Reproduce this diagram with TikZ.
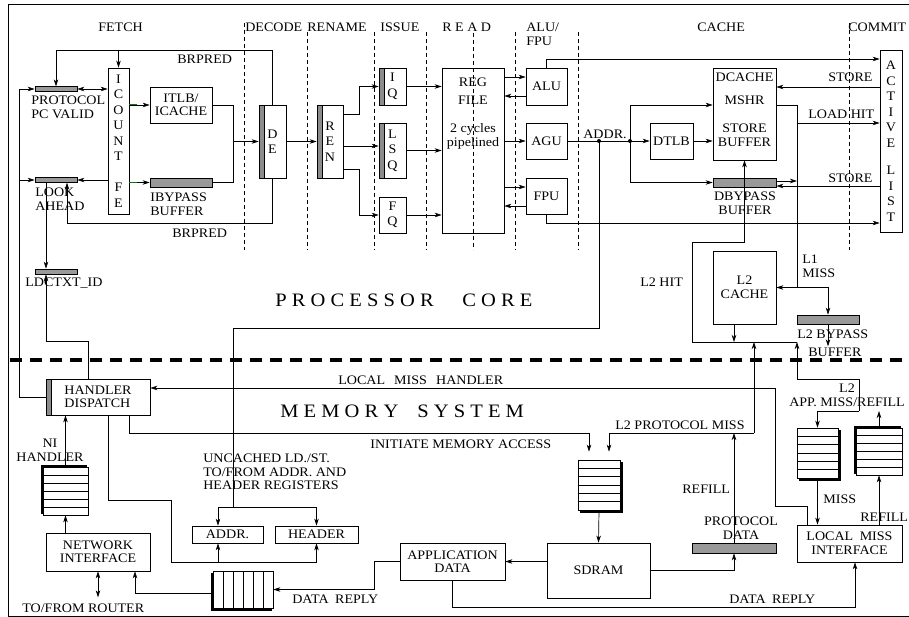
\documentclass[tikz,border=0pt]{standalone}
\usepackage{fontspec}
\setmainfont{Liberation Serif}[FakeStretch=1.08]
\usetikzlibrary{arrows.meta,calc,shadows}

\begin{document}
\begin{tikzpicture}[x=1pt, y=-1pt, line width=0.7pt,
  font=\fontsize{13}{13.5}\selectfont,
  >={Stealth[length=7pt,width=4.5pt,inset=2pt]},
  box/.style={draw, fill=white, align=center, inner sep=1pt},
  bar/.style={draw, fill=black!40, inner sep=0pt},
  stack/.style={box, inner sep=0pt, font=\fontsize{13}{15.5}\selectfont},
  strip/.style={path picture={
    \fill[black!45] (path picture bounding box.north west) rectangle ([xshift=5pt]path picture bounding box.south west);
    \draw ([xshift=5pt]path picture bounding box.north west) -- ([xshift=5pt]path picture bounding box.south west);}},
  queue/.style={draw, fill=white, inner sep=0pt},
  rows/.style={path picture={
    \foreach \k [evaluate=\k as \f using \k/(#1+1)] in {1,...,#1}
      \draw ($(path picture bounding box.north west)!\f!(path picture bounding box.south west)$) --
            ($(path picture bounding box.north east)!\f!(path picture bounding box.south east)$);}},
  cols/.style={path picture={
    \foreach \k [evaluate=\k as \f using \k/(#1+1)] in {1,...,#1}
      \draw ($(path picture bounding box.north west)!\f!(path picture bounding box.north east)$) --
            ($(path picture bounding box.south west)!\f!(path picture bounding box.south east)$);}},
  qse/.style={copy shadow={shadow xshift=2pt, shadow yshift=-2pt, fill=black, draw=black}},
  qnw/.style={copy shadow={shadow xshift=-2pt, shadow yshift=2pt, fill=black, draw=black}},
  qsw/.style={copy shadow={shadow xshift=-2pt, shadow yshift=-2pt, fill=black, draw=black}},
  lbl/.style={inner sep=0pt, anchor=base west},
  mlbl/.style={inner sep=0pt, anchor=north west, align=left},
  mclbl/.style={inner sep=0pt, anchor=north, align=center},
  bigtext/.style={inner sep=0pt, anchor=base west, font=\fontsize{19}{20}\selectfont},
  stagesep/.style={line width=0.6pt, dash pattern=on 4pt off 3pt},
  greenstub/.style={green!50!black, line width=1pt}]
  \useasboundingbox (0,0) rectangle (909,617);
  % Frame
  \draw (909,4) -- (8,4) -- (8,616) -- (909,616);
  % Stage names
  \foreach \name/\xx [count=\k] in {FETCH/98, DECODE/245, RENAME/307, ISSUE/380, {R E A D}/442, CACHE/697, COMMIT/848}
    \node[lbl] (stage\k) at (\xx,32) {\name};
  \node[mlbl] (stagealu) at (526,23) {ALU/\\FPU};

  % Fetch
  \node[bar, minimum width=42pt, minimum height=4.5pt] (pcv) at (56,89) {};
  \node[mlbl] (pcv-lbl) at (31,96) {PROTOCOL\\PC VALID};
  \node[bar, minimum width=42pt, minimum height=4.5pt] (look) at (56,180) {};
  \node[mlbl] (look-lbl) at (35,188) {LOOK\\AHEAD};
  \node[bar, minimum width=42pt, minimum height=5pt] (ldctxt) at (56,271.5) {};
  \node[lbl] (ldctxt-lbl) at (25,287) {LDCTXT\_ID};
  \node[stack, minimum width=21pt, minimum height=146pt] (icount) at (118.5,141) {I\\C\\O\\U\\N\\T\\[15.5pt]F\\E};
  \node[box, minimum width=62pt, minimum height=36pt] (itlb) at (181,105) {ITLB/\\ICACHE};
  \node[bar, minimum width=62pt, minimum height=9pt] (ibyp) at (181,182.5) {};
  \node[mlbl] (ibyp-lbl) at (150,193) {IBYPASS\\BUFFER};
  \node[lbl] (brtop-lbl) at (177,64) {BRPRED};
  \node[lbl] (brbot-lbl) at (172,238) {BRPRED};

  % Decode, rename, issue
  \node[stack, strip, minimum width=27pt, minimum height=73pt] (de) at (272.5,141.5) {D\\E};
  \node[stack, strip, minimum width=26pt, minimum height=73pt] (ren) at (330,141.5) {R\\E\\N};
  \node[stack, strip, minimum width=27pt, minimum height=37pt] (iq) at (392.5,86.5) {I\\Q};
  \node[stack, strip, minimum width=27pt, minimum height=55pt] (lsq) at (392.5,150.5) {L\\S\\Q};
  \node[stack, minimum width=27pt, minimum height=36pt] (fq) at (392.5,215) {F\\Q};

  % Read, execute
  \node[box, minimum width=62pt, minimum height=165pt] (rf) at (473,150.5) {};
  \node[mclbl] (rf-lbl) at (473,78) {REG\\[4.5pt]FILE\\[14.5pt]2 cycles\\pipelined};
  \node[box, minimum width=41pt, minimum height=37pt] (alu) at (546.5,86.5) {ALU};
  \node[box, minimum width=41pt, minimum height=36pt] (agu) at (546.5,141) {AGU};
  \node[box, minimum width=41pt, minimum height=36pt] (fpu) at (546.5,196) {FPU};

  % Cache, commit
  \node[box, minimum width=43pt, minimum height=36pt] (dtlb) at (671.5,141) {DTLB};
  \node[box, minimum width=63pt, minimum height=92pt] (dcache) at (744.5,114) {};
  \node[mclbl] (dcache-lbl) at (744.5,73) {DCACHE\\[9.5pt]MSHR\\[14.5pt]STORE\\BUFFER};
  \node[bar, minimum width=63pt, minimum height=9pt] (dbyp) at (744.5,182.5) {};
  \node[mclbl] (dbyp-lbl) at (745,192) {DBYPASS\\BUFFER};
  \node[stack, minimum width=22pt, minimum height=182pt] (alist) at (891,141) {A\\C\\T\\I\\V\\E\\[12pt]L\\I\\S\\T};
  \node[lbl] (addr-lbl) at (583,139) {ADDR.};
  \node[lbl] (sttop-lbl) at (828,82) {STORE};
  \node[lbl] (ldhit-lbl) at (808,119) {LOAD HIT};
  \node[lbl] (stbot-lbl) at (828,183) {STORE};

  % L2
  \node[box, minimum width=63pt, minimum height=73pt] (l2c) at (744.5,287.5) {L2\\CACHE};
  \node[bar, minimum width=62pt, minimum height=9pt] (l2byp) at (828,319.5) {};
  \node[lbl] (l2byp-lbl) at (797,338) {L2 BYPASS};
  \node[lbl] (l2buf-lbl) at (808,356) {BUFFER};
  \node[mlbl] (l1-lbl) at (802,255) {L1\\MISS};
  \node[lbl] (l2hit-lbl) at (640,287) {L2 HIT};
  \node[bigtext] (core-lbl) at (275,306) {P R O C E S S O R\hspace{1.5em}C O R E};

  % Memory system
  \node[box, strip, align=left, minimum width=104pt, minimum height=36pt] (hd) at (98,397) {HANDLER\\DISPATCH};
  \node[bigtext] (mem-lbl) at (280,417) {M E M O R Y\hspace{1em}S Y S T E M};
  \node[lbl] (lmh-lbl) at (338,384) {LOCAL\hspace{0.7em}MISS\hspace{0.7em}HANDLER};
  \node[queue, qnw, rows=5, minimum width=45pt, minimum height=48pt] (niq) at (65.5,491) {};
  \node[mclbl] (niq-lbl) at (50,439) {NI\\HANDLER};
  \node[box, minimum width=104pt, minimum height=38pt] (ni) at (98,552) {NETWORK\\INTERFACE};
  \node[lbl] (router-lbl) at (22,612) {TO/FROM ROUTER};
  \node[mlbl] (unc-lbl) at (203,454) {UNCACHED LD./ST.\\TO/FROM ADDR. AND\\HEADER REGISTERS};
  \node[box, minimum width=71pt, minimum height=17pt] (addr) at (227.5,534.5) {ADDR.};
  \node[box, minimum width=83pt, minimum height=17pt] (hdr) at (316.5,534.5) {HEADER};
  \node[queue, qsw, cols=5, minimum width=60pt, minimum height=37pt] (drq) at (243,589.5) {};
  \node[lbl] (dr-lbl) at (292,603) {DATA\hspace{0.5em}REPLY};
  \node[box, minimum width=105pt, minimum height=37pt] (app) at (452.5,561.5) {APPLICATION\\DATA};
  \node[lbl] (init-lbl) at (370,448) {INITIATE MEMORY ACCESS};
  \node[queue, qse, rows=5, minimum width=42pt, minimum height=50pt] (memq) at (599,485) {};
  \node[box, minimum width=103pt, minimum height=55pt] (sdram) at (598.5,570.5) {SDRAM};
  \node[bar, minimum width=84pt, minimum height=10pt] (pdata) at (734,548) {};
  \node[mclbl] (pdata-lbl) at (741,517) {PROTOCOL\\DATA};
  \node[lbl] (refill-lbl) at (682,493) {REFILL};
  \node[lbl] (pmiss-lbl) at (615,429) {L2 PROTOCOL MISS};
  \node[mclbl] (l2app-lbl) at (847,384) {L2\\APP. MISS/REFILL};
  \node[queue, qse, rows=5, minimum width=41pt, minimum height=50pt] (missq) at (817.5,453) {};
  \node[queue, qnw, rows=5, minimum width=46pt, minimum height=47pt] (refq) at (879,451.5) {};
  \node[lbl] (miss-lbl) at (823,503) {MISS};
  \node[lbl] (refill2-lbl) at (860,521) {REFILL};
  \node[box, minimum width=105pt, minimum height=37pt] (lmi) at (849.5,543.5) {LOCAL\hspace{0.5em}MISS\\INTERFACE};
  \node[lbl] (dr2-lbl) at (729,603) {DATA\hspace{0.5em}REPLY};

  % Border between core and memory
  \draw[line width=3.5pt, dash pattern=on 12pt off 8pt] (10,360) -- (909,360);

  % Fetch connectors
  \coordinate (brtop) at (0,50);
  \coordinate (brbot) at (0,223);
  \coordinate (lookin) at ([xshift=11pt]look.south);
  \coordinate (leftbus) at (19,0);
  \coordinate (fetchjoin) at (233,141.5);
  \draw[->] (de.north) |- (brtop -| pcv.north) -- (pcv.north);
  \draw[->] (brtop -| icount.north) -- (icount.north);
  \draw[->] (de.south) |- (brbot -| lookin) -- (lookin);
  \draw[<->] (pcv.east) -- (pcv.east -| icount.west);
  \draw[->] (look.east -| icount.west) -- (look.east);
  \draw[->] (icount.east |- itlb.west) -- (itlb.west);
  \draw[greenstub] (icount.east |- itlb.west) -- ++(8,0);
  \draw[->] (icount.east |- ibyp.west) -- (ibyp.west);
  \draw[greenstub] (icount.east |- ibyp.west) -- ++(8,0);
  \draw (itlb.east) -| (fetchjoin);
  \draw (ibyp.east) -| (fetchjoin);
  \draw[->] (fetchjoin) -- (de.west);
  \draw[->] (hd.west) -| (leftbus |- pcv.west) -- (pcv.west);
  \draw[->] (leftbus |- look.west) -- (look.west);
  \draw[->] ([xshift=-10pt]look.south) -- ([xshift=-10pt]ldctxt.north);
  \draw[->] ([xshift=-10pt]hd.north) -- ++(0,-37) -| ([xshift=-10pt]ldctxt.south);

  % Decode to execute
  \coordinate (renup) at ([yshift=27.5pt]ren.east);
  \coordinate (renmid) at ([yshift=-4.5pt]ren.east);
  \coordinate (rendn) at ([yshift=-27.5pt]ren.east);
  \draw[->] (de.east) -- (ren.west);
  \draw[->] (renup) -- ++(16,0) |- (iq.west);
  \draw[->] (renmid) -- (renmid -| lsq.west);
  \draw[->] (rendn) -- ++(16,0) |- (fq.west);
  \draw[->] (iq.east) -- (iq.east -| rf.west);
  \draw[->] (lsq.east) -- (lsq.east -| rf.west);
  \draw[->] (fq.east) -- (fq.east -| rf.west);
  \coordinate (aluin) at ([yshift=9.5pt]alu.west);
  \coordinate (aluout) at ([yshift=-9.5pt]alu.west);
  \coordinate (fpuin) at ([yshift=9pt]fpu.west);
  \coordinate (fpuout) at ([yshift=-10pt]fpu.west);
  \draw[->] (aluin -| rf.east) -- (aluin);
  \draw[->] (aluout) -- (aluout -| rf.east);
  \draw[->] (agu.west -| rf.east) -- (agu.west);
  \draw[->] (fpuin -| rf.east) -- (fpuin);
  \draw[->] (fpuout) -- (fpuout -| rf.east);

  % Cache and commit connectors
  \coordinate (altop) at ([yshift=82pt]alist.west);
  \coordinate (albot) at ([yshift=-82pt]alist.west);
  \coordinate (addrdot) at (599,141);
  \coordinate (tlbdot) at (630,141);
  \coordinate (mshrin) at ([yshift=9pt]dcache.west);
  \coordinate (mshrout) at ([yshift=9pt]dcache.east);
  \coordinate (sttop) at ([yshift=54pt]alist.west);
  \coordinate (ldhit) at ([yshift=18pt]alist.west);
  \coordinate (dbout) at ([yshift=1.5pt]dbyp.east);
  \coordinate (stbot) at ([yshift=-45pt]alist.west);
  \coordinate (l1) at (797,287.5);
  \coordinate (hitbus) at (797,342);
  \coordinate (l2cout) at ([xshift=-10.5pt]l2c.south);
  \draw[->] (alu.north) |- (altop);
  \draw[->] (fpu.south) |- (albot);
  \draw[->] (agu.east) -- (dtlb.west);
  \fill (addrdot) circle (2pt) (tlbdot) circle (2pt);
  \draw[->] (tlbdot) |- (mshrin);
  \draw[->] (tlbdot) |- (dbyp.west);
  \draw[->] (dtlb.east) -- (dtlb.east -| dcache.west);
  \draw[->] (sttop) -- (sttop -| dcache.east);
  \draw (mshrout) -| (l1);
  \draw[->] (l1 |- ldhit) -- (ldhit);
  \draw[->] (dbout) -- (dbout -| l1);
  \draw[->] (stbot) -- (stbot -| dbyp.east);
  \draw[->] (l1) -- (l2c.east);
  \draw[->] (l1) -| (l2byp.north);
  \draw[->] (l2cout) -- (l2cout |- hitbus);
  \draw[->] (hitbus) -| ++(-105,-100) -| (dcache.south);
  \draw[->] (l2byp.south) -- ++(0,22);

  % Memory connectors
  \coordinate (l2fork) at (859,411);
  \coordinate (pmiss) at (754,433);
  \coordinate (memqa) at ([xshift=-10pt]memq.north);
  \coordinate (memqb) at ([xshift=10pt]memq.north);
  \coordinate (drbot) at (0,607);
  \coordinate (lmiin) at ([xshift=5.5pt]lmi.south);
  \coordinate (drqout) at ([yshift=-3.5pt]drq.west);
  \coordinate (niin) at ([xshift=37pt]ni.south);
  \coordinate (regbus) at (0,562);
  \coordinate (addrio) at ([xshift=-9.5pt]addr.south);
  \coordinate (addrtop) at ([xshift=-9.5pt]addr.north);
  \coordinate (ucfork) at (233,507);
  \draw[->] (l2fork) |- ++(-62,-32) -- (hitbus);
  \draw[->] (l2fork) -| (missq.north);
  \draw[->] (refq.north) -- (refq.north |- l2fork);
  \draw[->] (pmiss) -- (pmiss |- hitbus);
  \draw[->, shorten >=8pt] (pmiss) -| (memqb);
  \draw[->] (pdata.north) -- (pdata.north |- pmiss);
  \draw[->, shorten >=8pt] ([xshift=31pt]hd.south) |- (memqa |- pmiss) -- (memqa);
  \draw[->] (memq.south) -- (sdram.north);
  \draw[->] (sdram.west |- app.east) -- (app.east);
  \draw[->] (sdram.east) -| (pdata.south);
  \draw[->] (app.west) -- ++(-25,0) |- (drq.east);
  \draw[->] (app.south) |- (drbot -| lmiin) -- (lmiin);
  \draw[->] (drqout) -| (niin);
  \draw[<->] (ni.south) -- ++(0,26);
  \draw[->] (ni.north -| niq.south) -- (niq.south);
  \draw[->] (niq.north) -- (niq.north |- hd.south);
  \draw[->] ([xshift=10pt]hd.south) -- ++(0,85) -- ++(63,0) |- (regbus -| hdr.south) -- (hdr.south);
  \draw[->] (regbus -| addrio) -- (addrio);
  \draw (addrdot) -- ++(0,187) -| (ucfork);
  \draw[->] (ucfork) -| (addrtop);
  \draw[->] (ucfork) -| (hdr.north);
  \draw[->] ([xshift=-42.5pt]lmi.north) -- ++(0,-18) -- ++(-32,0) |- ([yshift=9pt]hd.east);
  \draw[->] (missq.south) -- (missq.south |- lmi.north);
  \draw[->] (lmi.north -| refq.south) -- (refq.south);

  % Pipeline stage separators
  \foreach \xx/\ytop in {244/23, 307/32, 374/32, 426/32, 473/33, 515/32, 578/32, 849/23}
    \draw[stagesep] (\xx,\ytop) -- (\xx,250);
\end{tikzpicture}
\end{document}
